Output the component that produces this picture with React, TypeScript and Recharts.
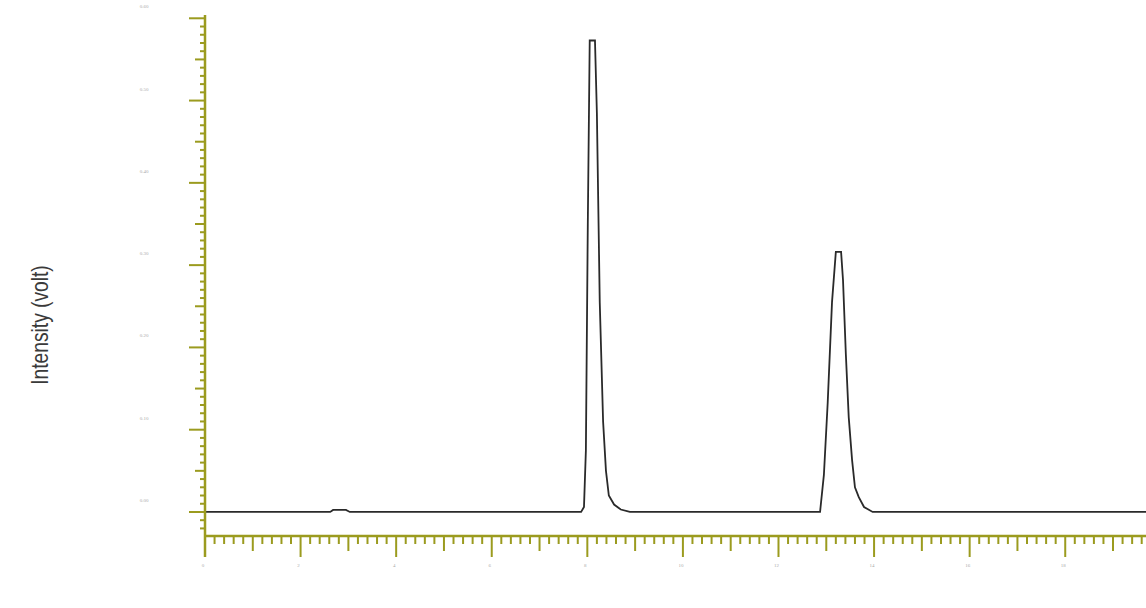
import React from "react";
import { Line, LineChart, ReferenceLine, XAxis, YAxis, Label } from "recharts";

// retention time (min) and detector signal (volt)
const times = [
  0, 2.62, 2.68, 2.95, 3.03,
  7.87, 7.93, 7.97, 8.01, 8.05, 8.16, 8.2, 8.26, 8.33, 8.39, 8.45, 8.56, 8.7, 8.89,
  12.87, 12.95, 13.03, 13.12, 13.2, 13.31, 13.35, 13.41, 13.47, 13.54, 13.6, 13.68, 13.79, 13.97,
  19.69,
];
const volts = [
  0, 0, 0.0025, 0.0025, 0,
  0, 0.006, 0.075, 0.35, 0.573, 0.573, 0.485, 0.255, 0.11, 0.05, 0.02, 0.009, 0.003, 0,
  0, 0.045, 0.133, 0.255, 0.316, 0.316, 0.282, 0.191, 0.115, 0.063, 0.03, 0.018, 0.006, 0,
  0,
];

const xTickLabels = ["0", "2", "4", "6", "8", "10", "12", "14", "16", "18"];
const yTickLabels = ["0.00", "0.10", "0.20", "0.30", "0.40", "0.50", "0.60"];

const data = times.map((t, i) => ({ t, v: volts[i] }));

const AXIS = "#9b9b1f";
const xTicks = Array.from({ length: 99 }, (_, i) => i / 5);
const yTicks = Array.from({ length: 63 }, (_, i) => (i - 2) / 100);

const XTick = (props: any) => {
  const { x, y, payload } = props;
  const i = Math.round(payload.value * 5);
  const len = i % 10 === 0 ? 21 : i % 5 === 0 ? 15 : 8;
  return (
    <g>
      <line x1={x} y1={y} x2={x} y2={y + len} stroke={AXIS} strokeWidth={2} />
      {i % 10 === 0 && (
        <text x={x - 2} y={y + 31} fontSize={5} fill="#aaa" textAnchor="middle">
          {xTickLabels[i / 10]}
        </text>
      )}
    </g>
  );
};

const YTick = (props: any) => {
  const { x, y, payload } = props;
  const i = Math.round(payload.value * 100);
  const len = i % 10 === 0 ? 16 : i % 5 === 0 ? 10 : 5;
  return (
    <g>
      <line x1={x} y1={y} x2={x - len} y2={y} stroke={AXIS} strokeWidth={2} />
      {i % 10 === 0 && i >= 0 && (
        <text x={x - 61} y={y - 10} fontSize={5} fill="#aaa" textAnchor="middle">
          {yTickLabels[i / 10]}
        </text>
      )}
    </g>
  );
};

export default function App() {
  return (
    <div style={{ position: "absolute", left: 0, top: 0, width: 1146, height: 608, background: "#fff" }}>
      <LineChart width={1146} height={608} data={data} margin={{ top: 15, right: 0, bottom: 32, left: 0 }}>
        <XAxis
          dataKey="t"
          type="number"
          domain={[0, 19.69]}
          ticks={xTicks}
          interval={0}
          tick={<XTick />}
          tickLine={false}
          tickSize={0}
          tickMargin={0}
          height={40}
          axisLine={{ stroke: AXIS, strokeWidth: 2.5 }}
        />
        <YAxis
          type="number"
          domain={[-0.0292, 0.604]}
          allowDataOverflow
          ticks={yTicks}
          interval={0}
          tick={<YTick />}
          tickLine={false}
          tickSize={0}
          tickMargin={0}
          width={205}
          axisLine={{ stroke: AXIS, strokeWidth: 2.5 }}
        >
          <Label
            content={({ viewBox }: any) => (
              <text
                transform={`translate(${viewBox.x + 42} ${viewBox.y + 310}) rotate(-90) scale(0.8 1)`}
                textAnchor="middle"
                dominantBaseline="middle"
                fontSize={24}
                fill="#3a3a3a"
                fontFamily="'Liberation Sans', Arial, sans-serif"
              >
                Intensity (volt)
              </text>
            )}
          />
        </YAxis>
        <ReferenceLine
          segment={[{ x: 0, y: -0.0292 }, { x: 0, y: -0.0547 }]}
          stroke={AXIS}
          strokeWidth={2.5}
          ifOverflow="visible"
        />
        <Line
          type="linear"
          dataKey="v"
          stroke="#2a2a2a"
          strokeWidth={1.8}
          dot={false}
          isAnimationActive={false}
        />
      </LineChart>
    </div>
  );
}
